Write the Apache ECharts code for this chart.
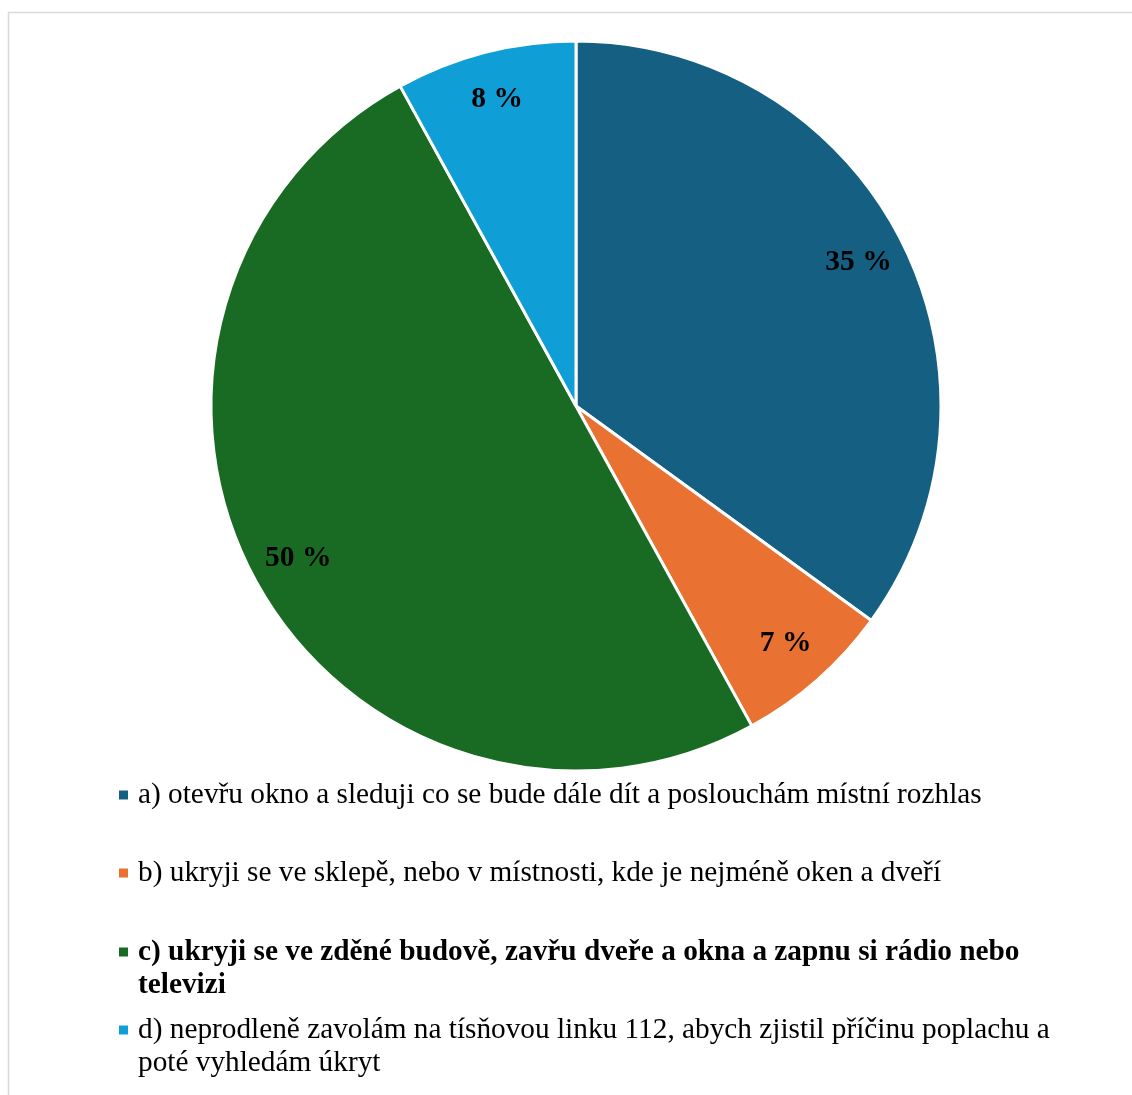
<!DOCTYPE html>
<html>
<head>
<meta charset="utf-8">
<script src="https://cdn.jsdelivr.net/npm/echarts@6/dist/echarts.min.js"></script>
<style>
html,body{margin:0;padding:0;background:#fff;}
#chart{width:1132px;height:1095px;}
</style>
</head>
<body>
<div id="chart"></div>
<script>
const categories = [
  'a) otevřu okno a sleduji co se bude dále dít a poslouchám místní rozhlas',
  'b) ukryji se ve sklepě, nebo v místnosti, kde je nejméně oken a dveří',
  'c) ukryji se ve zděné budově, zavřu dveře a okna a zapnu si rádio nebo televizi',
  'd) neprodleně zavolám na tísňovou linku 112, abych zjistil příčinu poplachu a poté vyhledám úkryt'
];
const values = [35, 7, 50, 8];
const colors = ['#156082', '#E97132', '#196B24', '#0F9ED5'];
const legendLines = [
  ['a) otevřu okno a sleduji co se bude dále dít a poslouchám místní rozhlas'],
  ['b) ukryji se ve sklepě, nebo v místnosti, kde je nejméně oken a dveří'],
  ['c) ukryji se ve zděné budově, zavřu dveře a okna a zapnu si rádio nebo', 'televizi'],
  ['d) neprodleně zavolám na tísňovou linku 112, abych zjistil příčinu poplachu a', 'poté vyhledám úkryt']
];
const legendBold = [false, false, true, false];

const FONT = "'Times New Roman', 'Liberation Serif', serif";
const LINE_H = 33;
const SQ = 11;
const legendTops = [778.5, 856.5, 935.5, 1013.5];

const data = categories.map((c, i) => ({ name: c, value: values[i], itemStyle: { color: colors[i] } }));

const legends = categories.map((c, i) => {
  const lines = legendLines[i].length;
  const iconH = lines > 1 ? SQ + (lines - 1) * LINE_H : SQ;
  return {
    data: [c],
    orient: 'vertical',
    left: 117,
    top: legendTops[i],
    padding: 0,
    itemWidth: 15,
    itemHeight: iconH,
    icon: 'path://M0,0h' + SQ + 'v' + SQ + 'h-' + SQ + 'z M14.99,' + (iconH - 0.01) + 'h0.01v0.01h-0.01z',
    selectedMode: false,
    formatter: () => legendLines[i].join('\n'),
    textStyle: {
      fontFamily: FONT,
      fontSize: 29.3,
      lineHeight: LINE_H,
      color: '#000',
      fontWeight: legendBold[i] ? 'bold' : 'normal'
    }
  };
});

const chart = echarts.init(document.getElementById('chart'), null, { renderer: 'canvas' });
chart.setOption({
  backgroundColor: '#fff',
  animation: false,
  graphic: [{
    type: 'rect',
    shape: { x: 8.5, y: 12.5, width: 1200, height: 1200 },
    style: { fill: 'none', stroke: '#d9d9d9', lineWidth: 1.5 },
    silent: true
  }],
  legend: legends,
  series: [
    {
      type: 'pie',
      center: [576, 406],
      radius: [0, 365],
      startAngle: 90,
      clockwise: true,
      silent: true,
      itemStyle: { borderColor: '#fff', borderWidth: 3 },
      label: { show: false },
      labelLine: { show: false },
      data: data
    },
    {
      type: 'pie',
      center: [576, 406],
      radius: [0, 628],
      startAngle: 90,
      clockwise: true,
      silent: true,
      itemStyle: { color: 'rgba(0,0,0,0)', borderWidth: 0 },
      label: {
        show: true,
        position: 'inside',
        formatter: '{c} %',
        fontFamily: FONT,
        fontSize: 29.5,
        fontWeight: 'bold',
        color: '#000'
      },
      labelLine: { show: false },
      data: categories.map((c, i) => ({ name: c, value: values[i] }))
    }
  ]
});
</script>
</body>
</html>
